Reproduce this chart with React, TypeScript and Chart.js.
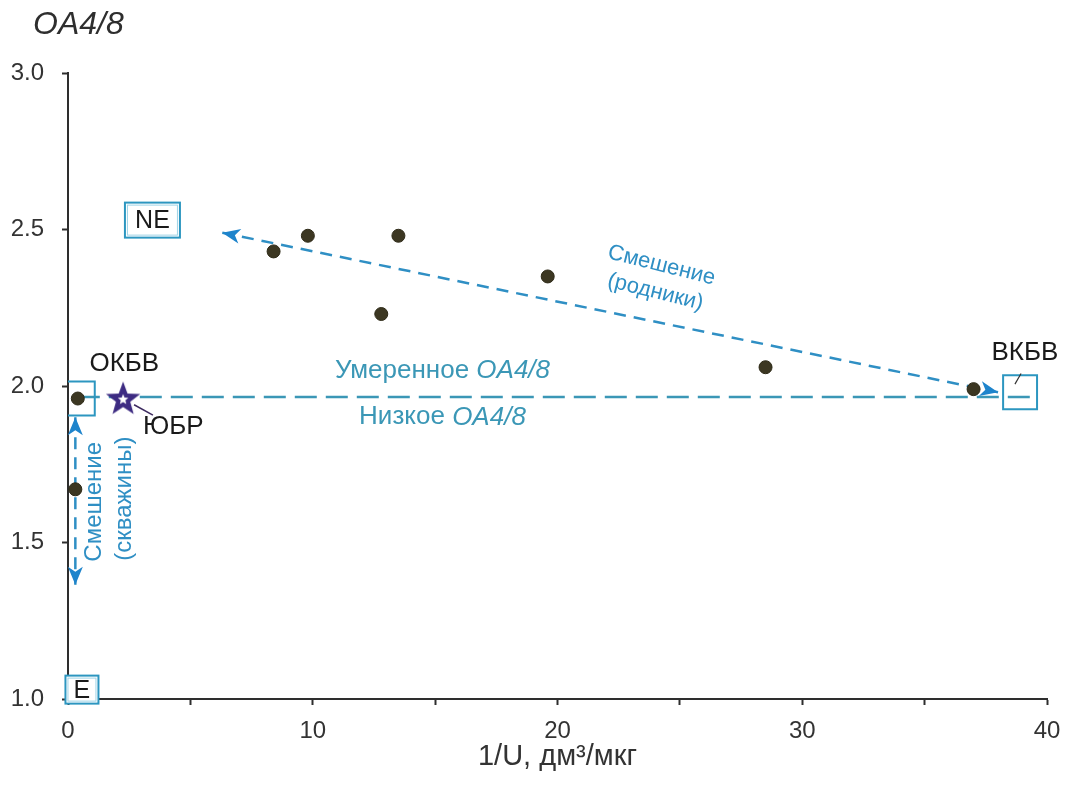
import React, { useEffect, useRef } from 'react';
import { Chart, registerables } from 'chart.js';

Chart.register(...registerables);

// ---- data ----
const sampleX = [8.4, 9.8, 13.5, 12.8, 19.6, 28.5, 37.0, 0.4, 0.3];
const sampleY = [2.43, 2.48, 2.48, 2.23, 2.35, 2.06, 1.99, 1.96, 1.67];

const endMemberNames = ['ОКБВ', 'ВКБВ'];
const endMemberX = [0.4, 38.9];
const endMemberY = [1.96, 1.98];

const starName = 'ЮБР';
const starX = [2.25];
const starY = [1.96];

const sourceNames = ['NE', 'E'];
const sourceX = [3.45, 0.57];
const sourceY = [2.53, 1.03];

const moderateLineX = [0.4, 39.3];
const moderateLineY = [1.965, 1.965];

const springLineX = [38.0, 6.3];
const springLineY = [1.98, 2.49];

const wellLineX = [0.3, 0.3];
const wellLineY = [1.9, 1.365];

const xTicks = [0, 10, 20, 30, 40];
const yTicks = [1.0, 1.5, 2.0, 2.5, 3.0];

// annotation text anchors (data coords)
const nameLabelX = [2.3, 39.1];
const nameLabelY = [2.07, 2.105];
const starLabelX = 4.3;
const starLabelY = 1.87;
const moderateText = ['Умеренное ', 'OA4/8'];
const lowText = ['Низкое ', 'OA4/8'];
const zoneLabelX = [15.3, 15.3];
const zoneLabelY = [2.05, 1.9];
const springText = ['Смешение', '(родники)'];
const springTextX = [24.25, 24.0];
const springTextY = [2.385, 2.3];
const wellText = ['Смешение', '(скважины)'];
const wellTextX = [1.06, 2.29];
const wellTextY = [1.63, 1.64];
const starLeaderX = [2.7, 3.47];
const starLeaderY = [1.94, 1.907];
const vkbvLeaderX = [38.69, 38.94];
const vkbvLeaderY = [2.006, 2.04];

const FONT = "'Liberation Sans', Arial, sans-serif";
const AXIS = '#2e2e2e';
const TEAL = '#3b97b6';
const BLUE = '#2f8fc4';
const ARROW = '#1e84cc';
const BOX = '#2c96c0';

function makeStar(): HTMLCanvasElement {
  const c = document.createElement('canvas');
  c.width = 38;
  c.height = 38;
  const g = c.getContext('2d')!;
  const cx = 19, cy = 20, R = 18, r = 7.5;
  g.beginPath();
  for (let i = 0; i < 10; i++) {
    const a = -Math.PI / 2 + (i * Math.PI) / 5;
    const rr = i % 2 === 0 ? R : r;
    const X = cx + rr * Math.cos(a);
    const Y = cy + rr * Math.sin(a);
    if (i === 0) g.moveTo(X, Y); else g.lineTo(X, Y);
  }
  g.closePath();
  g.fillStyle = '#3d2b82';
  g.fill();
  g.beginPath();
  for (let i = 0; i < 10; i++) {
    const a = -Math.PI / 2 + (i * Math.PI) / 5;
    const rr = i % 2 === 0 ? 5.5 : 2.4;
    const X = cx + rr * Math.cos(a);
    const Y = cy + rr * Math.sin(a);
    if (i === 0) g.moveTo(X, Y); else g.lineTo(X, Y);
  }
  g.closePath();
  g.fillStyle = '#ffffff';
  g.fill();
  return c;
}

function arrowHead(ctx: CanvasRenderingContext2D, tx: number, ty: number, fx: number, fy: number, color: string) {
  const a = Math.atan2(ty - fy, tx - fx);
  const L = 18, W = 7.5;
  ctx.save();
  ctx.translate(tx, ty);
  ctx.rotate(a);
  ctx.beginPath();
  ctx.moveTo(0, 0);
  ctx.lineTo(-L, -W);
  ctx.lineTo(-L * 0.72, 0);
  ctx.lineTo(-L, W);
  ctx.closePath();
  ctx.fillStyle = color;
  ctx.fill();
  ctx.restore();
}

function mixedText(ctx: CanvasRenderingContext2D, parts: string[], cx: number, cy: number, size: number, color: string) {
  const f1 = `${size}px ${FONT}`;
  const f2 = `italic ${size}px ${FONT}`;
  ctx.font = f1;
  const w1 = ctx.measureText(parts[0]).width;
  ctx.font = f2;
  const w2 = ctx.measureText(parts[1]).width;
  let x = cx - (w1 + w2) / 2;
  ctx.fillStyle = color;
  ctx.textAlign = 'left';
  ctx.textBaseline = 'middle';
  ctx.font = f1;
  ctx.fillText(parts[0], x, cy);
  x += w1;
  ctx.font = f2;
  ctx.fillText(parts[1], x, cy);
}

const annotations = {
  id: 'annotations',
  afterDatasetsDraw(chart: any) {
    const { ctx, scales } = chart;
    const X = (v: number) => scales.x.getPixelForValue(v);
    const Y = (v: number) => scales.y.getPixelForValue(v);
    ctx.save();
    // arrowheads
    arrowHead(ctx, X(springLineX[0]), Y(springLineY[0]), X(springLineX[1]), Y(springLineY[1]), ARROW);
    arrowHead(ctx, X(springLineX[1]), Y(springLineY[1]), X(springLineX[0]), Y(springLineY[0]), ARROW);
    arrowHead(ctx, X(wellLineX[0]), Y(wellLineY[0]), X(wellLineX[1]), Y(wellLineY[1]), ARROW);
    arrowHead(ctx, X(wellLineX[1]), Y(wellLineY[1]), X(wellLineX[0]), Y(wellLineY[0]), ARROW);

    // leaders
    ctx.strokeStyle = '#3d2b60';
    ctx.lineWidth = 1.5;
    ctx.beginPath();
    ctx.moveTo(X(starLeaderX[0]), Y(starLeaderY[0]));
    ctx.lineTo(X(starLeaderX[1]), Y(starLeaderY[1]));
    ctx.stroke();
    ctx.strokeStyle = '#333';
    ctx.lineWidth = 1.2;
    ctx.beginPath();
    ctx.moveTo(X(vkbvLeaderX[0]), Y(vkbvLeaderY[0]));
    ctx.lineTo(X(vkbvLeaderX[1]), Y(vkbvLeaderY[1]));
    ctx.stroke();

    // source boxes
    const boxW = [55, 33];
    const boxH = [35, 28];
    sourceNames.forEach((n, i) => {
      const cx = X(sourceX[i]);
      const cy = Y(sourceY[i]);
      ctx.fillStyle = '#fff';
      ctx.fillRect(cx - boxW[i] / 2, cy - boxH[i] / 2, boxW[i], boxH[i]);
      ctx.strokeStyle = BOX;
      ctx.lineWidth = 2;
      ctx.strokeRect(cx - boxW[i] / 2, cy - boxH[i] / 2, boxW[i], boxH[i]);
      ctx.strokeStyle = '#9fd3e6';
      ctx.lineWidth = 1;
      ctx.strokeRect(cx - boxW[i] / 2 + 2.5, cy - boxH[i] / 2 + 2.5, boxW[i] - 5, boxH[i] - 5);
      ctx.fillStyle = '#1a1a1a';
      ctx.font = `25px ${FONT}`;
      ctx.textAlign = 'center';
      ctx.textBaseline = 'middle';
      ctx.fillText(n, cx, cy + 1);
    });

    // black names
    ctx.fillStyle = '#1a1a1a';
    ctx.font = `26px ${FONT}`;
    ctx.textAlign = 'center';
    ctx.textBaseline = 'middle';
    endMemberNames.forEach((n, i) => ctx.fillText(n, X(nameLabelX[i]), Y(nameLabelY[i])));
    ctx.fillText(starName, X(starLabelX), Y(starLabelY));

    // zone labels
    mixedText(ctx, moderateText, X(zoneLabelX[0]), Y(zoneLabelY[0]), 26, TEAL);
    mixedText(ctx, lowText, X(zoneLabelX[1]), Y(zoneLabelY[1]), 26, TEAL);

    // spring mixing text (rotated)
    ctx.fillStyle = BLUE;
    ctx.font = `22px ${FONT}`;
    ctx.textAlign = 'center';
    ctx.textBaseline = 'middle';
    springText.forEach((t, i) => {
      ctx.save();
      ctx.translate(X(springTextX[i]), Y(springTextY[i]));
      ctx.rotate((14 * Math.PI) / 180);
      ctx.fillText(t, 0, 0);
      ctx.restore();
    });

    // well mixing text (vertical)
    ctx.font = `24px ${FONT}`;
    wellText.forEach((t, i) => {
      ctx.save();
      ctx.translate(X(wellTextX[i]), Y(wellTextY[i]));
      ctx.rotate(-Math.PI / 2);
      ctx.fillText(t, 0, 0);
      ctx.restore();
    });

    // y axis title
    ctx.fillStyle = '#2e2e2e';
    ctx.font = `italic 32px ${FONT}`;
    ctx.textAlign = 'left';
    ctx.textBaseline = 'middle';
    ctx.fillText('OA4/8', chart.chartArea.left - 35, 25);
    ctx.restore();
  },
};

export default function App() {
  const ref = useRef<HTMLCanvasElement | null>(null);
  useEffect(() => {
    if (!ref.current) return;
    const star = makeStar();
    const chart = new Chart(ref.current, {
      type: 'scatter',
      data: {
        datasets: [
          {
            label: 'samples',
            data: sampleX.map((x, i) => ({ x, y: sampleY[i] })),
            pointRadius: 6.5,
            pointBackgroundColor: '#3c3722',
            pointBorderColor: '#2e2a18',
            pointBorderWidth: 1,
            order: 0,
          },
          {
            label: 'star',
            data: starX.map((x, i) => ({ x, y: starY[i] })),
            pointStyle: star as any,
            order: 1,
          },
          {
            label: 'end members',
            data: endMemberX.map((x, i) => ({ x, y: endMemberY[i] })),
            pointStyle: 'rect',
            pointRadius: 24,
            pointBackgroundColor: 'rgba(0,0,0,0)',
            pointBorderColor: BOX,
            pointBorderWidth: 2,
            order: 2,
          },
          {
            label: 'moderate',
            data: moderateLineX.map((x, i) => ({ x, y: moderateLineY[i] })),
            showLine: true,
            borderColor: TEAL,
            borderWidth: 2.5,
            borderDash: [22, 9],
            pointRadius: 0,
            order: 5,
          },
          {
            label: 'springs',
            data: springLineX.map((x, i) => ({ x, y: springLineY[i] })),
            showLine: true,
            borderColor: BLUE,
            borderWidth: 2.5,
            borderDash: [12, 8],
            pointRadius: 0,
            order: 5,
          },
          {
            label: 'wells',
            data: wellLineX.map((x, i) => ({ x, y: wellLineY[i] })),
            showLine: true,
            borderColor: BLUE,
            borderWidth: 2.5,
            borderDash: [12, 8],
            pointRadius: 0,
            order: 5,
          },
        ],
      },
      options: {
        animation: false,
        responsive: false,
        maintainAspectRatio: false,
        layout: { autoPadding: false, padding: { left: 0, top: 73, right: 18, bottom: 0 } },
        plugins: { legend: { display: false }, tooltip: { enabled: false }, title: { display: false } },
        scales: {
          x: {
            type: 'linear',
            min: 0,
            max: 40,
            afterFit: (s: any) => { s.height = 86; s.paddingLeft = 0; s.paddingRight = 0; },
            afterBuildTicks: (s: any) => {
              const t = [];
              for (let v = 0; v <= 40; v += 5) t.push({ value: v });
              s.ticks = t;
            },
            ticks: {
              autoSkip: false,
              maxRotation: 0,
              padding: 12,
              color: '#333',
              font: { family: FONT, size: 24 },
              callback: (v: any) => (xTicks.includes(Number(v)) ? String(v) : ''),
            },
            grid: { display: true, drawOnChartArea: false, drawTicks: true, tickLength: 6, tickColor: AXIS, tickWidth: 2 },
            border: { display: true, color: AXIS, width: 2 },
            title: {
              display: true,
              text: '1/U, дм³/мкг',
              color: '#333',
              font: { family: FONT, size: 29 },
              padding: { top: 0, bottom: 11 },
            },
          },
          y: {
            type: 'linear',
            min: 1,
            max: 3,
            afterFit: (s: any) => { s.width = 68; s.paddingTop = 0; s.paddingBottom = 0; },
            afterBuildTicks: (s: any) => { s.ticks = yTicks.map((v) => ({ value: v })); },
            ticks: {
              padding: 18,
              color: '#333',
              font: { family: FONT, size: 24 },
              callback: (v: any) => Number(v).toFixed(1),
            },
            grid: { display: true, drawOnChartArea: false, drawTicks: true, tickLength: 6, tickColor: AXIS, tickWidth: 2 },
            border: { display: true, color: AXIS, width: 2 },
          },
        },
      },
      plugins: [annotations],
    });
    return () => chart.destroy();
  }, []);
  return (
    <div style={{ position: 'absolute', left: 0, top: 0, width: 1065, height: 785, background: '#fff' }}>
      <canvas ref={ref} width={1065} height={785} />
    </div>
  );
}
